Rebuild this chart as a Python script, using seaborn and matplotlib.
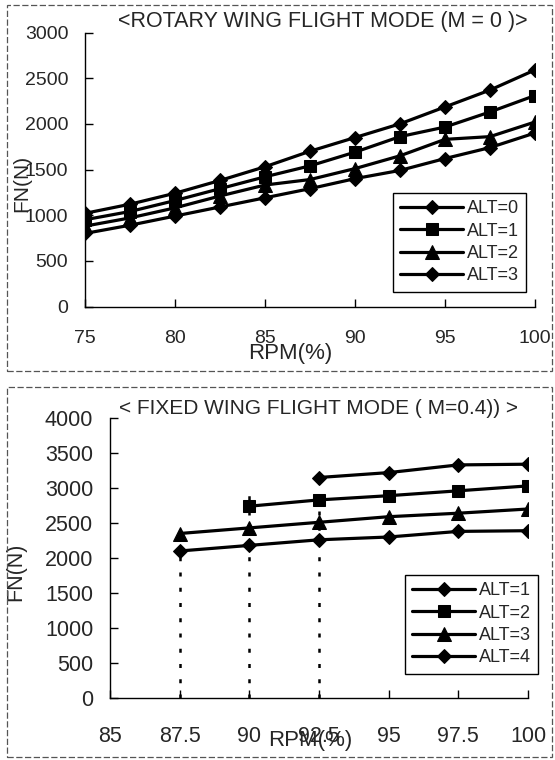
import matplotlib
matplotlib.use('Agg')
import matplotlib.pyplot as plt
import seaborn as sns
import pandas as pd
from matplotlib.patches import Rectangle

# ---------------- data ----------------
rpm_rotary = [75, 77.5, 80, 82.5, 85, 87.5, 90, 92.5, 95, 97.5, 100]
fn_rot_alt0 = [1020, 1120, 1240, 1380, 1530, 1700, 1850, 2000, 2185, 2370, 2590]
fn_rot_alt1 = [950, 1040, 1160, 1290, 1420, 1540, 1690, 1860, 1965, 2130, 2310]
fn_rot_alt2 = [880, 970, 1080, 1210, 1330, 1390, 1510, 1650, 1830, 1860, 2020]
fn_rot_alt3 = [800, 890, 990, 1090, 1190, 1290, 1400, 1490, 1620, 1740, 1900]
rotary_labels = ['ALT=0', 'ALT=1', 'ALT=2', 'ALT=3']

rpm_fix_alt1 = [92.5, 95, 97.5, 100]
fn_fix_alt1 = [3150, 3220, 3330, 3340]
rpm_fix_alt2 = [90, 92.5, 95, 97.5, 100]
fn_fix_alt2 = [2740, 2830, 2890, 2960, 3030]
rpm_fix_alt3 = [87.5, 90, 92.5, 95, 97.5, 100]
fn_fix_alt3 = [2350, 2430, 2510, 2590, 2640, 2700]
rpm_fix_alt4 = [87.5, 90, 92.5, 95, 97.5, 100]
fn_fix_alt4 = [2100, 2180, 2260, 2300, 2380, 2390]
fixed_labels = ['ALT=1', 'ALT=2', 'ALT=3', 'ALT=4']

guide_rpm = [87.5, 90, 92.5]
guide_top = [2050, 3000, 3150]

rot_xticks = [75, 80, 85, 90, 95, 100]
rot_yticks = [0, 500, 1000, 1500, 2000, 2500, 3000]
fix_xticks = [85, 87.5, 90, 92.5, 95, 97.5, 100]
fix_xticklabels = ['85', '87.5', '90', '92.5', '95', '97.5', '100']
fix_yticks = [0, 500, 1000, 1500, 2000, 2500, 3000, 3500, 4000]

title_rot = '<ROTARY WING FLIGHT MODE (M = 0 )>'
title_fix = '< FIXED WING FLIGHT MODE ( M=0.4)) >'

# ---------------- style ----------------
sns.set_style('ticks')
plt.rcParams['font.family'] = ['Liberation Sans', 'DejaVu Sans']

W, H = 555, 760
fig = plt.figure(figsize=(W / 100, H / 100), dpi=100)


def px_axes(left, top, right, bottom):
    return fig.add_axes([left / W, 1 - bottom / H, (right - left) / W, (bottom - top) / H])


marker_size = {'D': 7.5, 's': 8.5, '^': 9.5}


def draw_series(ax, xs, ys, label, marker):
    df = pd.DataFrame({'rpm': xs, 'fn': ys})
    sns.lineplot(data=df, x='rpm', y='fn', ax=ax, color='black', lw=2.3,
                 marker=marker, markersize=marker_size[marker],
                 markeredgecolor='black', markerfacecolor='black',
                 label=label, zorder=3)


def style_axes(ax, xlim, ylim, xticks, yticks, xfs, yfs, xpad, ypad):
    ax.set_xlim(*xlim)
    ax.set_ylim(*ylim)
    ax.set_xticks(xticks)
    ax.set_yticks(yticks)
    for s in ['top', 'right']:
        ax.spines[s].set_visible(False)
    for s in ['left', 'bottom']:
        ax.spines[s].set_color('black')
        ax.spines[s].set_linewidth(1.0)
    ax.tick_params(axis='both', direction='in', length=6, width=1, color='black')
    ax.tick_params(axis='x', labelsize=xfs, pad=xpad)
    ax.tick_params(axis='y', labelsize=yfs, pad=ypad)
    ax.set_facecolor('white')


def style_legend(ax, anchor):
    handles, labels = ax.get_legend_handles_labels()
    leg = ax.legend(handles, labels, loc='upper left', bbox_to_anchor=anchor,
                    bbox_transform=fig.transFigure, borderaxespad=0,
                    fontsize=13, frameon=True, fancybox=False, handlelength=3.5,
                    handletextpad=0.2, labelspacing=0.3, borderpad=0.4)
    leg.get_frame().set_edgecolor('black')
    leg.get_frame().set_linewidth(1.0)
    leg.get_frame().set_facecolor('white')
    leg.get_frame().set_alpha(1)


# ---------------- top panel ----------------
ax1 = px_axes(85, 32.5, 535, 306.5)
for xs, ys, lab, mk in zip([rpm_rotary] * 4,
                           [fn_rot_alt0, fn_rot_alt1, fn_rot_alt2, fn_rot_alt3],
                           rotary_labels, ['D', 's', '^', 'D']):
    draw_series(ax1, xs, ys, lab, mk)
style_axes(ax1, (75, 100), (0, 3000), rot_xticks, rot_yticks, 14, 14, 17, 12)
ax1.set_title(title_rot, fontsize=15.5, pad=0)
ax1.title.set_position((0.529, 0.995))
ax1.set_xlabel('RPM(%)', fontsize=16)
ax1.xaxis.set_label_coords(0.456, -0.135)
ax1.set_ylabel('FN(N)', fontsize=15)
ax1.yaxis.set_label_coords(-0.12, 0.45)
style_legend(ax1, (393 / W, 1 - 193 / H))

# ---------------- bottom panel ----------------
ax2 = px_axes(110, 418, 528, 698)
ax2.vlines(guide_rpm, 0, guide_top, colors='black', linestyles=(0, (1.6, 4.5)),
           lw=1.8, zorder=1)
for xs, ys, lab, mk in zip([rpm_fix_alt1, rpm_fix_alt2, rpm_fix_alt3, rpm_fix_alt4],
                           [fn_fix_alt1, fn_fix_alt2, fn_fix_alt3, fn_fix_alt4],
                           fixed_labels, ['D', 's', '^', 'D']):
    draw_series(ax2, xs, ys, lab, mk)
style_axes(ax2, (85, 100), (0, 4000), fix_xticks, fix_yticks, 15.5, 15.5, 20, 12)
ax2.set_xticklabels(fix_xticklabels)
ax2.set_title(title_fix, fontsize=15, pad=0)
ax2.title.set_position((0.498, 1.0255))
ax2.set_xlabel('RPM(%)', fontsize=16)
ax2.xaxis.set_label_coords(0.478, -0.115)
ax2.set_ylabel('FN(N)', fontsize=15.5)
ax2.yaxis.set_label_coords(-0.2, 0.45)
style_legend(ax2, (405 / W, 1 - 575 / H))

# ---------------- panel frames ----------------
for top, bottom in [(5, 371), (387, 757)]:
    fig.add_artist(Rectangle((7 / W, 1 - bottom / H), (552 - 7) / W, (bottom - top) / H,
                             transform=fig.transFigure, fill=False, ec='#555555',
                             lw=0.9, ls=(0, (5, 2))))

fig.savefig('out.png', dpi=100, facecolor='white')
